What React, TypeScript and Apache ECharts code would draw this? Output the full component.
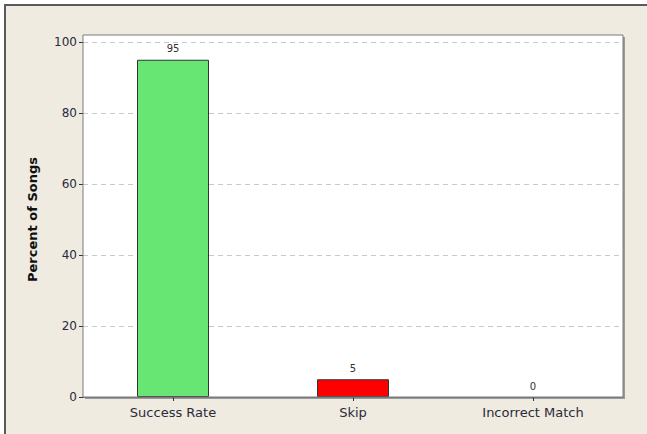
import React, { useEffect, useRef } from "react";
import * as echarts from "echarts";

const categories = ["Success Rate", "Skip", "Incorrect Match"];
const values = [95, 5, 0];
const barColors = ["#68E673", "#FF0000", "#68E673"];
const yTicks = { min: 0, max: 100, interval: 20 };
const yAxisTitle = "Percent of Songs";

const W = 647;
const H = 434;
const plot = { left: 83, top: 35, right: 623, bottom: 397 };

export default function App() {
  const ref = useRef<HTMLDivElement>(null);

  useEffect(() => {
    if (!ref.current) return;
    const chart = echarts.init(ref.current, null, { renderer: "svg" });
    const font = "Tahoma, 'DejaVu Sans', sans-serif";
    chart.setOption({
      animation: false,
      backgroundColor: "#ffffff",
      textStyle: { fontFamily: font },
      grid: {
        left: plot.left,
        top: 42,
        right: W - plot.right,
        bottom: H - plot.bottom,
        containLabel: false,
      },
      graphic: [
        // beige panel
        {
          type: "rect",
          z: -20,
          silent: true,
          shape: { x: 5, y: 5, width: W, height: H },
          style: { fill: "#EFEBE1" },
        },
        // panel border (top and left)
        {
          type: "polyline",
          z: -19,
          silent: true,
          shape: { points: [[5, H], [5, 5], [W, 5]] },
          style: { stroke: "#5a5a5a", lineWidth: 2, fill: null },
        },
        // plot shadow
        {
          type: "rect",
          z: -18,
          silent: true,
          shape: {
            x: plot.left + 2,
            y: plot.top + 2,
            width: plot.right - plot.left,
            height: plot.bottom - plot.top,
          },
          style: { fill: "#9a9a9a" },
        },
        // plot background
        {
          type: "rect",
          z: -17,
          silent: true,
          shape: {
            x: plot.left,
            y: plot.top,
            width: plot.right - plot.left,
            height: plot.bottom - plot.top,
          },
          style: { fill: "#ffffff" },
        },
        // plot frame
        {
          type: "rect",
          z: 20,
          silent: true,
          shape: {
            x: plot.left,
            y: plot.top,
            width: plot.right - plot.left,
            height: plot.bottom - plot.top,
          },
          style: { fill: null, stroke: "#7a7a7a", lineWidth: 1 },
        },
      ],
      xAxis: {
        type: "category",
        data: categories,
        axisLine: { show: true, lineStyle: { color: "#7a7a7a" } },
        axisTick: {
          show: true,
          alignWithLabel: true,
          length: 4,
          lineStyle: { color: "#333" },
        },
        axisLabel: {
          color: "#2a2a3a",
          fontSize: 13,
          fontFamily: font,
          margin: 9,
        },
      },
      yAxis: {
        type: "value",
        min: yTicks.min,
        max: yTicks.max,
        interval: yTicks.interval,
        name: yAxisTitle,
        nameLocation: "middle",
        nameGap: 44,
        nameTextStyle: {
          fontSize: 13,
          fontWeight: "bold",
          color: "#111",
          fontFamily: font,
        },
        axisLine: { show: false },
        axisTick: { show: true, length: 4, lineStyle: { color: "#333" } },
        axisLabel: {
          color: "#2a2a3a",
          fontSize: 12,
          fontFamily: font,
          margin: 6,
        },
        splitLine: {
          show: true,
          lineStyle: { color: "#c8c8c8", type: [5, 4] },
        },
      },
      series: [
        {
          type: "bar",
          barWidth: "40%",
          data: values.map((v, i) => ({
            value: v,
            itemStyle: {
              color: barColors[i],
              borderWidth: v === 0 ? 0 : 1,
            },
          })),
          itemStyle: { borderColor: "#333", borderWidth: 1 },
          label: {
            show: true,
            position: "top",
            distance: 6,
            fontSize: 10,
            color: "#333",
            fontFamily: font,
          },
        },
      ],
    });
    return () => chart.dispose();
  }, []);

  return (
    <div
      ref={ref}
      style={{ position: "fixed", left: 0, top: 0, width: W, height: H }}
    />
  );
}
